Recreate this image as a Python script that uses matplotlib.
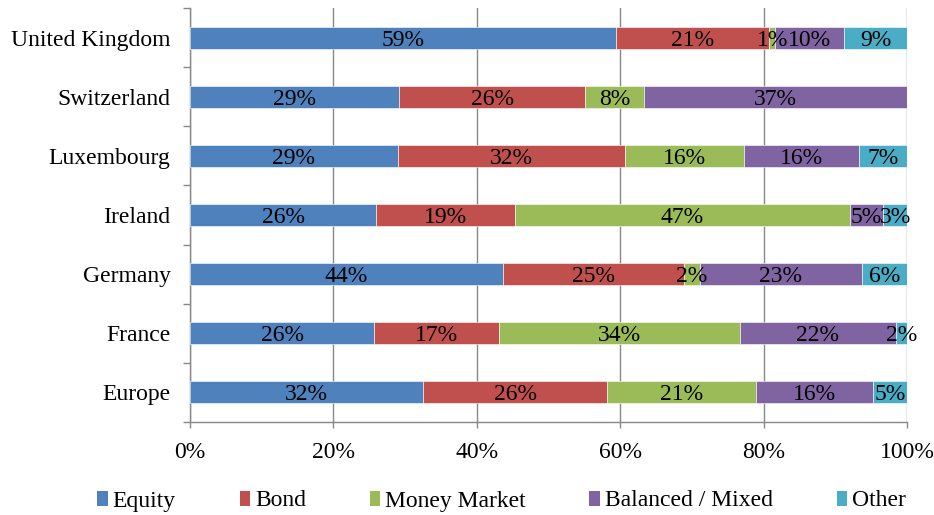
import numpy as np
import matplotlib
matplotlib.use("Agg")
import matplotlib.pyplot as plt
from matplotlib.patches import Patch

# ==========================================================
# DATA (share of fund assets, %)
# ==========================================================

countries = ["United Kingdom", "Switzerland", "Luxembourg", "Ireland",
             "Germany", "France", "Europe"]

equity = [59.4, 29.2, 29.0, 26.0, 43.6, 25.7, 32.5]
bond = [21.4, 25.9, 31.7, 19.3, 25.3, 17.4, 25.7]
money_market = [0.8, 8.2, 16.5, 46.7, 2.2, 33.6, 20.7]
balanced = [9.6, 36.7, 16.1, 4.7, 22.6, 21.7, 16.4]
other = [8.8, 0.0, 6.7, 3.3, 6.3, 1.6, 4.7]

series_names = ["Equity", "Bond", "Money Market", "Balanced / Mixed", "Other"]
colors = ["#4F81BD", "#C0504D", "#9BBB59", "#8064A2", "#4BACC6"]

# ==========================================================

plt.rcParams["font.family"] = ["Liberation Serif", "DejaVu Serif"]
FS = 17

fig = plt.figure(figsize=(9.34, 5.15), dpi=100)
ax = fig.add_axes([190 / 934, 1 - 422 / 515, (907 - 190) / 934, (422 - 8) / 515])

series = [equity, bond, money_market, balanced, other]
y = np.arange(len(countries))[::-1]
left = np.zeros(len(countries))

for vals, name, col in zip(series, series_names, colors):
    vals = np.array(vals)
    ax.barh(y, vals, left=left, height=0.37, color=col,
            edgecolor="white", linewidth=0.4, zorder=3, label=name)
    for yi, l, v in zip(y, left, vals):
        if v > 0:
            ax.text(l + v / 2, yi, f"{v:.0f}%", ha="center",
                    va="center_baseline", fontsize=FS, color="black", zorder=4)
    left += vals

ax.set_xlim(0, 100)
ax.set_ylim(-0.5, len(countries) - 0.5)

ax.set_xticks(np.arange(0, 101, 20))
ax.set_xticklabels([f"{t}%" for t in range(0, 101, 20)], fontsize=FS)
ax.tick_params(axis="x", length=4.5, width=1, color="#888888", pad=10)

ax.set_yticks(y)
ax.set_yticklabels(countries, fontsize=FS)
ax.tick_params(axis="y", length=0, pad=14)
ax.set_yticks(np.arange(-0.5, len(countries), 1), minor=True)
ax.tick_params(axis="y", which="minor", length=5, width=1, color="#888888")

ax.grid(axis="x", color="#888888", linewidth=1, zorder=0)

for side in ["top", "right"]:
    ax.spines[side].set_visible(False)
for side in ["left", "bottom"]:
    ax.spines[side].set_color("#888888")
    ax.spines[side].set_linewidth(1)

handles = [Patch(facecolor=c, label=n) for c, n in zip(colors, series_names)]
fig.legend(handles=handles, loc="center", bbox_to_anchor=(0.537, 1 - 501 / 515),
           ncol=5, frameon=False, fontsize=FS, handlelength=0.45,
           handleheight=0.6, handletextpad=0.2, columnspacing=2.7)

plt.savefig("out.png", dpi=100)
